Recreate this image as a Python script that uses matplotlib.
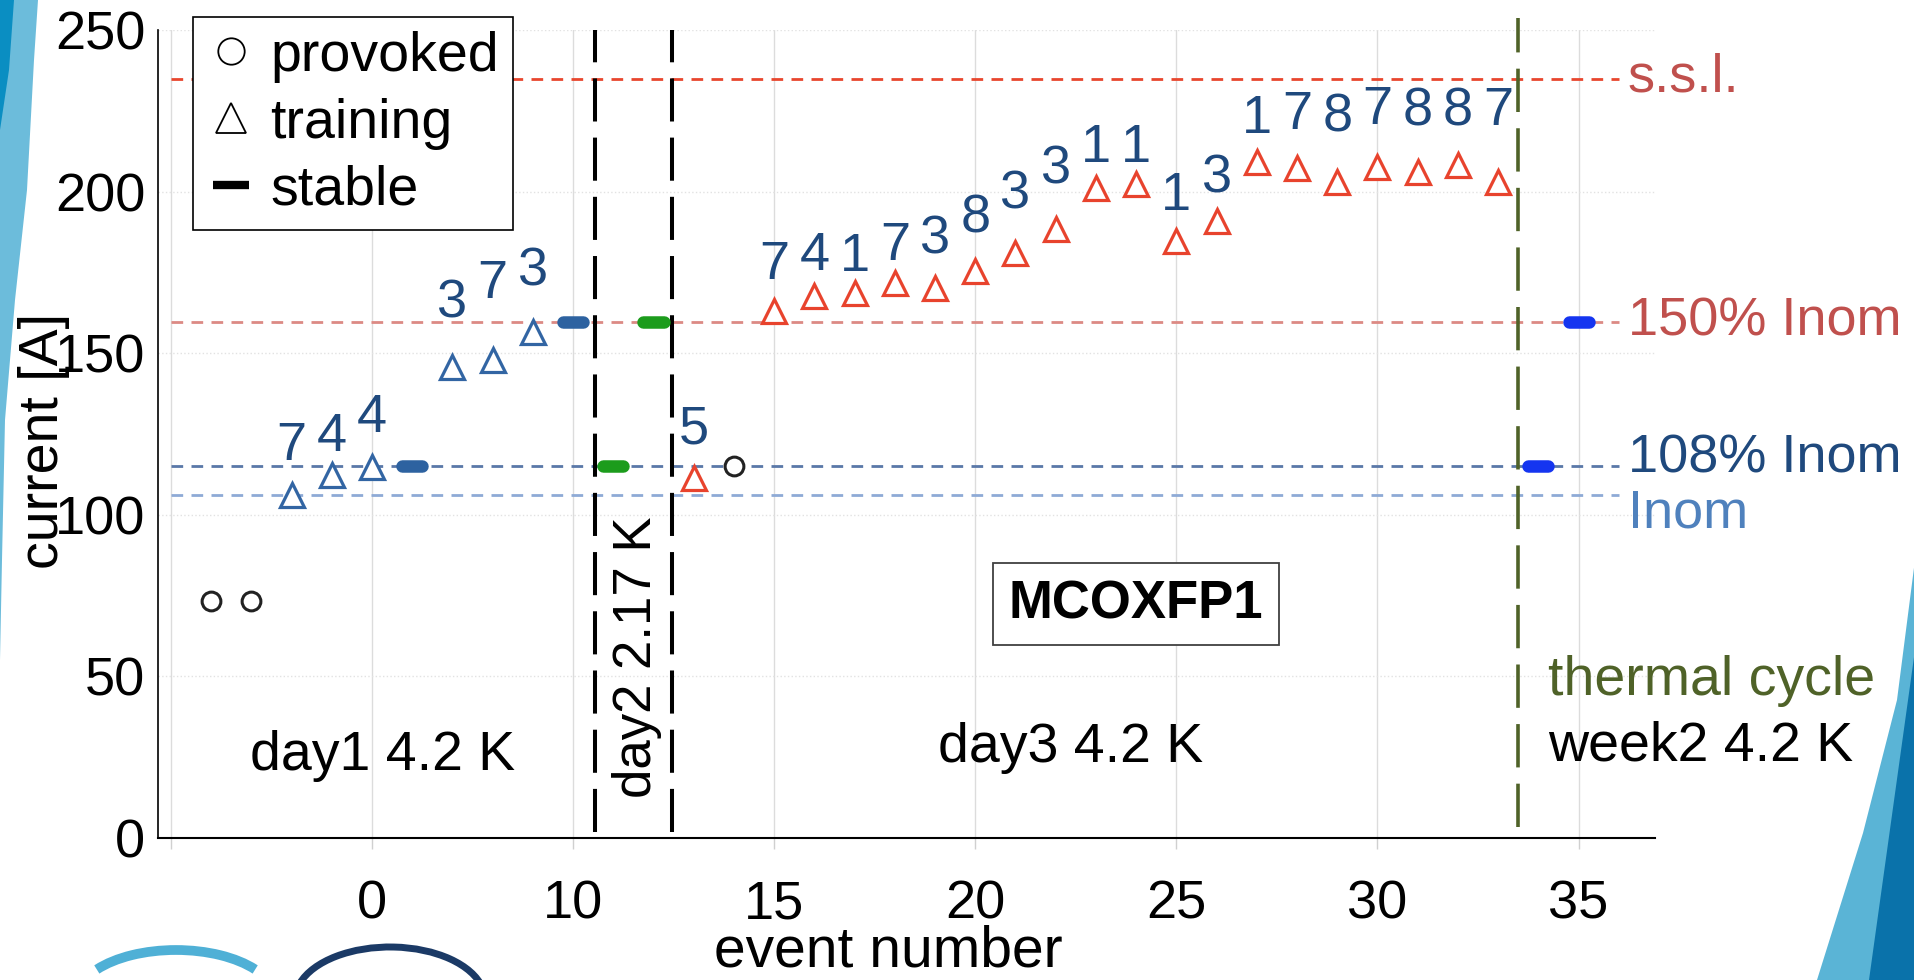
import numpy as np
import matplotlib
matplotlib.use('Agg')
import matplotlib.pyplot as plt
from matplotlib.lines import Line2D
from matplotlib.patches import Polygon, Arc

plt.rcParams['font.family'] = ['Liberation Sans', 'DejaVu Sans']

# reference currents [A]
ref_names = ['s.s.l.', '150% Inom', '108% Inom', 'Inom']
ref_I = [234.7, 159.6, 115.0, 106.1]

# provoked quenches
prov_x = [1, 2, 14]
prov_I = [73.4, 73.4, 115.2]

# training quenches day1 (blue)
tr1_x = [3, 4, 5, 7, 8, 9]
tr1_I = [106.1, 112.3, 114.9, 145.8, 147.9, 156.6]
tr1_lab = ['7', '4', '4', '3', '7', '3']

# training quenches after day2 (red)
tr2_x = [13, 15, 16, 17, 18, 19, 20, 21, 22, 23, 24, 25, 26, 27, 28, 29, 30, 31, 32, 33]
tr2_I = [111.3, 163.2, 167.7, 168.5, 171.6, 170.3, 175.5, 180.9, 188.3, 201.0,
         202.4, 184.7, 191.0, 209.2, 207.2, 203.1, 207.5, 206.1, 208.3, 203.1]
tr2_lab = ['5', '7', '4', '1', '7', '3', '8', '3', '3', '1',
           '1', '1', '3', '1', '7', '8', '7', '8', '8', '7']

# stable runs
stab_x = [6, 10, 11, 12, 34, 35]
stab_I = [115.0, 159.6, 115.0, 159.6, 115.0, 159.6]
stab_day = ['day1', 'day1', 'day2', 'day2', 'week2', 'week2']

xtick_pos = [0, 5, 10, 15, 20, 25, 30, 35]
xtick_lab = ['', '0', '10', '15', '20', '25', '30', '35']

# label placement (offset above the marker, in A)
dy1 = [16.8, 13.4, 16.7, 21.3, 25.1, 20.4]
dy2 = [16.8, 15.8, 14.0, 12.9, 13.2, 16.6, 17.8, 19.8, 20.2, 14.1,
       12.7, 15.5, 14.6, 15.0, 18.2, 21.6, 19.3, 20.2, 18.2, 23.4]
half_digit = 6.0

W, H = 1915, 980
def fx(px):
    return px / W
def fy(py):
    return 1 - py / H

fig = plt.figure(figsize=(19.15, 9.8), dpi=100)
ax = fig.add_axes([fx(158), fy(838), fx(1655) - fx(158), fy(30) - fy(838)])

ax.set_xlim(-0.32, 36.9)
ax.set_ylim(0, 250)

# reference lines
ref_col = ['#e8462e', '#dc8a84', '#5a78a8', '#8eaad6']
lab_col = ['#c0504d', '#c0504d', '#1f497d', '#4f81bd']
lab_base = [230.9, 155.6, 113.2, 96.2]
for lvl, c in zip(ref_I, ref_col):
    ax.plot([0, 36], [lvl, lvl], color=c, lw=2.0, dashes=(4.2, 3.0), zorder=2)
for name, c, yb in zip(ref_names, lab_col, lab_base):
    ax.text(36.22, yb, name, color=c, fontsize=39, ha='left', va='baseline', clip_on=False)

# day separators
ax.axvline(10.55, ymin=0.008, ymax=1.0, color='black', lw=2.9, dashes=(10.7, 4.0), zorder=3)
ax.axvline(12.45, ymin=0.008, ymax=1.0, color='black', lw=2.9, dashes=(10.7, 4.0), zorder=3)
ax.axvline(33.5, ymin=0.014, ymax=1.015, color='#4f6228', lw=2.6, dashes=(12, 4.5), zorder=3, clip_on=False)

# stable runs
st_col = {'day1': '#2d62a0', 'day2': '#1c9c1c', 'week2': '#1535f0'}
sx = np.array(stab_x, dtype=float)
lc = ax.hlines(stab_I, sx - 0.25, sx + 0.25, colors=[st_col[d] for d in stab_day], lw=9, zorder=4)
lc.set_capstyle('round')

# quenches
ax.plot(prov_x, prov_I, ls='none', marker='o', ms=13.5, mfc='white', mec='#222222', mew=2.2, zorder=5)
ax.plot(tr1_x, tr1_I, ls='none', marker='^', ms=17, mfc='white', mec='#3265a3', mew=2.3, zorder=5)
ax.plot(tr2_x, tr2_I, ls='none', marker='^', ms=17, mfc='white', mec='#e8432d', mew=2.3, zorder=5)

for x, y, s, d in zip(tr1_x, tr1_I, tr1_lab, dy1):
    ax.text(x, y + d - half_digit, s, color='#1f497d', fontsize=39, ha='center', va='baseline', zorder=6)
for x, y, s, d in zip(tr2_x, tr2_I, tr2_lab, dy2):
    ax.text(x, y + d - half_digit, s, color='#1f497d', fontsize=39, ha='center', va='baseline', zorder=6)

# annotations
ax.text(5.27, 21, 'day1 4.2 K', fontsize=40, ha='center', va='baseline')
ax.text(11.6, 56, 'day2 2.17 K', fontsize=38, rotation=90, ha='center', va='center')
ax.text(22.37, 23.6, 'day3 4.2 K', fontsize=40, ha='center', va='baseline')
ax.text(34.25, 44.2, 'thermal cycle', fontsize=40, color='#4f6228', ha='left', va='baseline', clip_on=False)
ax.text(34.25, 24.1, 'week2 4.2 K', fontsize=40, ha='left', va='baseline', clip_on=False)
ax.text(24.0, 72.4, 'MCOXFP1', fontsize=38, fontweight='bold', ha='center', va='center',
        bbox=dict(boxstyle='square,pad=0.3', fc='white', ec='#404040', lw=1.3))

# axes styling
ax.set_xticks(xtick_pos)
ax.set_xticklabels(xtick_lab)
ax.set_yticks([0, 50, 100, 150, 200, 250])
ax.tick_params(axis='x', labelsize=39, length=8, width=1, color='#d0d0d0', pad=22)
ax.tick_params(axis='y', labelsize=39, length=0, pad=9)
ax.grid(axis='x', color='#dcdcdc', lw=1)
ax.grid(axis='y', color='#e2e2e2', lw=1, ls=':')
ax.set_axisbelow(True)
for s in ['top', 'right']:
    ax.spines[s].set_visible(False)
ax.spines['left'].set_linewidth(1.2)
ax.spines['bottom'].set_linewidth(1.5)

ax.set_xlabel('event number', fontsize=41, va='baseline')
ax.xaxis.set_label_coords((888 - 158) / 1497, (838 - 966) / 808)
ax.set_ylabel('current [A]', fontsize=40, va='center')
ax.yaxis.set_label_coords((44 - 158) / 1497, (838 - 441) / 808)

# legend
handles = [Line2D([], [], ls='none', marker='o', ms=19, mfc='none', mec='black', mew=1.3),
           Line2D([], [], ls='none', marker='^', ms=22, mfc='none', mec='black', mew=1.3),
           Line2D([], [], ls='none', marker='_', ms=26, mew=6, color='black')]
leg = ax.legend(handles, ['provoked', 'training', 'stable'], loc='upper left',
                bbox_to_anchor=(fx(192.6), fy(16.7)), bbox_transform=fig.transFigure,
                fontsize=40, fancybox=False, edgecolor='black', framealpha=1,
                borderpad=0.25, labelspacing=0.27, handlelength=0.9, handletextpad=0.25,
                borderaxespad=0)
leg.get_frame().set_linewidth(1.2)

# slide decoration
left_band = [(0, 0), (38, 0), (34, 60), (27, 190), (15, 300), (5, 420), (2, 560), (0, 660)]
fig.add_artist(Polygon([(fx(a), fy(b)) for a, b in left_band], closed=True,
                       transform=fig.transFigure, fc='#6cbcdb', ec='none'))
left_dark = [(0, 0), (14, 0), (9, 70), (0, 130)]
fig.add_artist(Polygon([(fx(a), fy(b)) for a, b in left_dark], closed=True,
                       transform=fig.transFigure, fc='#0a8ec2', ec='none'))
right_band = [(1915, 560), (1897, 700), (1863, 833), (1817, 980), (1915, 980)]
fig.add_artist(Polygon([(fx(a), fy(b)) for a, b in right_band], closed=True,
                       transform=fig.transFigure, fc='#5ab4d6', ec='none'))
right_dark = [(1915, 650), (1869, 980), (1915, 980)]
fig.add_artist(Polygon([(fx(a), fy(b)) for a, b in right_dark], closed=True,
                       transform=fig.transFigure, fc='#0a72aa', ec='none'))
fig.add_artist(Arc((fx(176), fy(1000)), fx(200), 100 / H, theta1=37, theta2=143,
                   transform=fig.transFigure, color='#4fb0d6', lw=7))
fig.add_artist(Arc((fx(390), fy(1000)), fx(190), 106 / H, theta1=15, theta2=160,
                   transform=fig.transFigure, color='#1b3a66', lw=5))

fig.savefig('out.png', dpi=100)
